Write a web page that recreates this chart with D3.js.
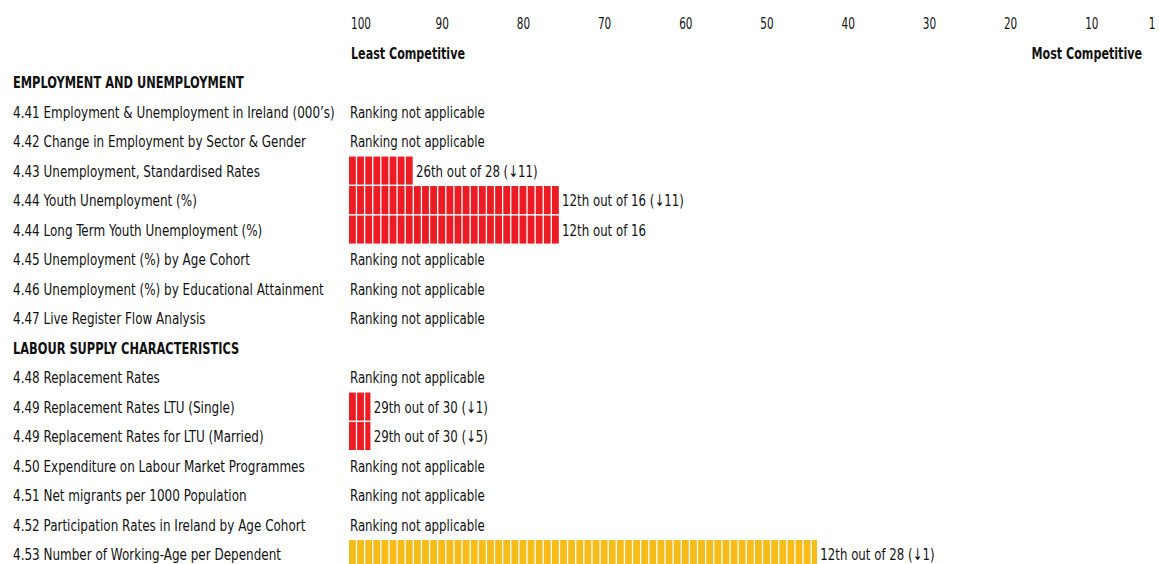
<!DOCTYPE html>
<html><head><meta charset="utf-8">
<script src="https://cdn.jsdelivr.net/npm/d3@7"></script>
<style>
html,body{margin:0;padding:0;background:#fff;}
svg{display:block;}
text{font-family:"DejaVu Sans",sans-serif;font-stretch:condensed;fill:#111;}
</style></head>
<body>
<svg id="chart" width="1159" height="564"></svg>
<script>
// ---- data ----
const rowLabels = [
  "EMPLOYMENT AND UNEMPLOYMENT",
  "4.41 Employment & Unemployment in Ireland (000\u2019s)",
  "4.42 Change in Employment by Sector & Gender",
  "4.43 Unemployment, Standardised Rates",
  "4.44 Youth Unemployment (%)",
  "4.44 Long Term Youth Unemployment (%)",
  "4.45 Unemployment (%) by Age Cohort",
  "4.46 Unemployment (%) by Educational Attainment",
  "4.47 Live Register Flow Analysis",
  "LABOUR SUPPLY CHARACTERISTICS",
  "4.48 Replacement Rates",
  "4.49 Replacement Rates LTU (Single)",
  "4.49 Replacement Rates for LTU (Married)",
  "4.50 Expenditure on Labour Market Programmes",
  "4.51 Net migrants per 1000 Population",
  "4.52 Participation Rates in Ireland by Age Cohort",
  "4.53 Number of Working-Age per Dependent"
];
const isHeading = [true,false,false,false,false,false,false,false,false,true,false,false,false,false,false,false,false];
// bar length measured from the "100" end of the scale (units of the axis); null = no bar
const barUnits = [null,null,null,8,26,26,null,null,null,null,null,2.8,2.8,null,null,null,57.8];
const barGroup = [null,null,null,"red","red","red",null,null,null,null,null,"red","red",null,null,null,"yellow"];
const rankText = [
  "",
  "Ranking not applicable",
  "Ranking not applicable",
  "26th out of 28 (\u219311)",
  "12th out of 16 (\u219311)",
  "12th out of 16",
  "Ranking not applicable",
  "Ranking not applicable",
  "Ranking not applicable",
  "",
  "Ranking not applicable",
  "29th out of 30 (\u21931)",
  "29th out of 30 (\u21935)",
  "Ranking not applicable",
  "Ranking not applicable",
  "Ranking not applicable",
  "12th out of 28 (\u21931)"
];
const tickValues = [100,90,80,70,60,50,40,30,20,10,1];
const axisEndLabels = ["Least Competitive","Most Competitive"];

// ---- layout ----
const W = 1159, H = 564;
const svg = d3.select("#chart");
const colors = {red:"#ED1C24", yellow:"#F7BC19"};
const FS = 16;

// measure helper to emulate the narrow font of the original
function measure(str, bold){
  const t = svg.append("text").style("font-size",FS+"px").style("font-weight",bold?"bold":"normal").text(str);
  const w = t.node().getComputedTextLength(); t.remove(); return w;
}
const sNorm = 135 / measure("Ranking not applicable", false);
const sRow = 322 / measure(rowLabels[1], false);
const sBold = 231 / measure("EMPLOYMENT AND UNEMPLOYMENT", true);
const sAxisBold = 114 / measure("Least Competitive", true);
const sTick = 20 / measure("100", false);

function addText(g, x, y, str, opts={}){
  return g.append("text")
    .attr("transform", `translate(${x},${y}) scale(${opts.s||sNorm},1)`)
    .attr("text-anchor", opts.anchor || "start")
    .style("font-size", FS+"px")
    .style("font-weight", opts.bold ? "bold" : "normal")
    .text(str);
}

const x = d3.scaleLinear().domain([100, 0]).range([349, 349 + 100*8.12]);
const y = d3.scaleBand().domain(d3.range(rowLabels.length)).range([67.3, 67.3 + 29.5*rowLabels.length]).paddingInner(0.05).paddingOuter(0.025);

// axis tick labels
const axisG = svg.append("g");
tickValues.forEach(v => addText(axisG, Math.min(x(v) + 12, W - 7), 29, String(v), {anchor:"middle", s:sTick}));
addText(axisG, 351, 59, axisEndLabels[0], {bold:true, s:sAxisBold});
addText(axisG, 1142, 59, axisEndLabels[1], {bold:true, s:sAxisBold, anchor:"end"});

// row labels
const labG = svg.append("g");
rowLabels.forEach((l,i) => addText(labG, 13, y(i) + y.bandwidth()/2 + 6, l, {bold:isHeading[i], s:isHeading[i]?sBold:sRow}));

// bars: drawn as unit segments
rowLabels.forEach((l,i) => {
  if (barUnits[i] == null) return;
  const v = barUnits[i];
  const segs = d3.range(0, Math.ceil(v)).map(k => ({a:100-k, b:Math.max(100-k-1, 100-v)}));
  svg.append("g").selectAll("rect").data(segs).join("rect")
    .attr("x", d => x(d.a))
    .attr("y", y(i))
    .attr("width", d => Math.max(0.8, x(d.b) - x(d.a) - 1.3))
    .attr("height", y.bandwidth())
    .attr("fill", colors[barGroup[i]]);
});

// rank text
const rankG = svg.append("g");
rankText.forEach((t,i) => {
  if (!t) return;
  const tx = barUnits[i]==null ? 350 : x(100-barUnits[i]) + 2;
  addText(rankG, tx, y(i) + y.bandwidth()/2 + 6, t);
});
</script>
</body></html>
